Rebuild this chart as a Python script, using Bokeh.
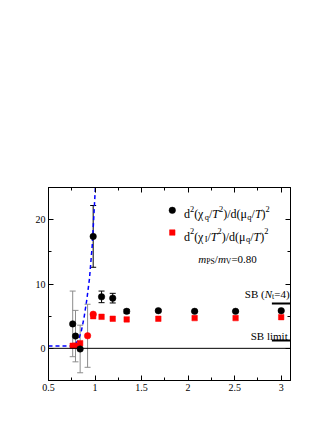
from bokeh.plotting import figure
from bokeh.models import (ColumnDataSource, Whisker, TeeHead, Span, Label, LinearAxis,
                          FixedTicker, NumeralTickFormatter, Range1d)
from bokeh.embed import file_html
from bokeh.resources import INLINE

# ---------------- data ----------------
T_q = [0.76, 0.79, 0.84, 0.98, 1.07, 1.19, 1.34, 1.68, 2.07, 2.51, 3.00]
d2chi_q = [3.8, 1.9, -0.1, 17.4, 8.0, 7.8, 5.75, 5.85, 5.75, 5.75, 5.85]
d2chi_q_err = [5.1, 4.0, 3.7, 4.8, 0.9, 0.75, 0.3, 0.15, 0.1, 0.1, 0.1]
d2chi_q_err_gray = [True, True, True, False, False, False, False, False, False, False, False]

T_I = [0.76, 0.79, 0.84, 0.98, 1.07, 1.19, 1.34, 1.68, 2.07, 2.51, 3.00]
d2chi_I = [0.4, 0.4, 0.8, 5.0, 4.9, 4.6, 4.5, 4.6, 4.7, 4.7, 4.85]

T_I_c = [0.92, 0.98]
d2chi_I_c = [1.95, 5.3]
d2chi_I_c_err = [4.9, 0.0]

T_fit = [0.5, 0.77, 0.79, 0.82, 0.85, 0.88, 0.91, 0.94, 0.97, 1.0, 1.01]
fit = [0.35, 0.35, 0.7, 1.3, 2.5, 4.6, 7.4, 10.8, 16.0, 24.0, 27.0]

sb_nt4 = 6.95
sb_limit = 1.22
sb_x = [2.9, 3.1]

x_ticks = [0.5, 1.0, 1.5, 2.0, 2.5, 3.0]
x_minor = [0.75, 1.25, 1.75, 2.25, 2.75]
y_ticks = [0, 10, 20]
y_minor = [-5, 5, 15, 25]

FONT = "Liberation Serif"

p = figure(width=324, height=422, x_range=Range1d(0.5, 3.1), y_range=Range1d(-5, 25),
           output_backend="svg", toolbar_location=None,
           min_border_left=48, min_border_right=34, min_border_top=187, min_border_bottom=42)
p.xgrid.visible = False
p.ygrid.visible = False
p.outline_line_color = "black"
p.background_fill_color = "white"
p.border_fill_color = "white"


def style_axis(ax, ticks, minor, labels=True):
    ax.ticker = FixedTicker(ticks=ticks, minor_ticks=minor)
    ax.major_tick_in = 5
    ax.major_tick_out = 0
    ax.minor_tick_in = 3
    ax.minor_tick_out = 0
    ax.axis_line_color = "black"
    ax.major_tick_line_color = "black"
    ax.minor_tick_line_color = "black"
    ax.major_label_text_font = FONT
    ax.major_label_text_font_size = "10px"
    ax.major_label_text_color = "black" if labels else None
    ax.major_label_standoff = 3


style_axis(p.xaxis[0], x_ticks, x_minor)
p.xaxis[0].formatter = NumeralTickFormatter(format="0.[0]")
style_axis(p.yaxis[0], y_ticks, y_minor)
top = LinearAxis()
style_axis(top, x_ticks, x_minor, labels=False)
p.add_layout(top, "above")
right = LinearAxis()
style_axis(right, y_ticks, y_minor, labels=False)
p.add_layout(right, "right")

# zero line
p.add_layout(Span(location=0, dimension="width", line_color="black", line_width=1))

# blue dashed fit
p.line(T_fit, fit, line_color="#0000ff", line_width=1.5, line_dash="4 3")

# error bars
def whisker(xs, ys, es, color):
    src = ColumnDataSource(dict(x=xs, lo=[y - e for y, e in zip(ys, es)],
                                hi=[y + e for y, e in zip(ys, es)]))
    w = Whisker(source=src, base="x", upper="hi", lower="lo", dimension="height",
                line_color=color, line_width=1,
                upper_head=TeeHead(size=6, line_color=color, line_width=1),
                lower_head=TeeHead(size=6, line_color=color, line_width=1))
    p.add_layout(w)

gx = [x for x, g in zip(T_q, d2chi_q_err_gray) if g]
gy = [y for y, g in zip(d2chi_q, d2chi_q_err_gray) if g]
ge = [e for e, g in zip(d2chi_q_err, d2chi_q_err_gray) if g]
bx = [x for x, g in zip(T_q, d2chi_q_err_gray) if not g]
by = [y for y, g in zip(d2chi_q, d2chi_q_err_gray) if not g]
be = [e for e, g in zip(d2chi_q_err, d2chi_q_err_gray) if not g]
whisker(gx, gy, ge, "#8c8c8c")
whisker(bx, by, be, "black")
whisker([T_I_c[0]], [d2chi_I_c[0]], [d2chi_I_c_err[0]], "#8c8c8c")

# markers
p.scatter(T_I, d2chi_I, marker="square", size=5.5, fill_color="#ff0000", line_color="#ff0000",
          line_width=0.5)
p.scatter(T_I_c, d2chi_I_c, marker="circle", size=6.5, fill_color="#ff0000", line_color="#ff0000",
          line_width=0.5)
p.scatter(T_q, d2chi_q, marker="circle", size=6.5, fill_color="black", line_color="black",
          line_width=0.5)

# SB lines
p.line(sb_x, [sb_nt4, sb_nt4], line_color="black", line_width=2)
p.line(sb_x, [sb_limit, sb_limit], line_color="black", line_width=2)

# ---------------- rich text helper ----------------
WR = {'d': .5, '(': .333, ')': .333, '/': .278, 'q': .5, '2': .5, 'S': .556, 'B': .667,
      ' ': .25, '=': .564, '4': .5, 'l': .278, 'i': .278, 'm': .778, 't': .278, '0': .5,
      '.': .25, '8': .5, 'P': .556, 'V': .722, 'I': .333, 'χ': .55, 'μ': .576, 'c': .444,
      'p': .5}
WI = {'T': .556, 'N': .667, 't': .278, 'm': .722, 'p': .5, 'c': .444, '/': .278}


def rich(x, y, pieces, size, dy=0.0, align="left"):
    items = []
    cx = 0.0
    for s, st in pieces:
        small = ("sup" in st) or ("sub" in st)
        sz = size * 0.7 if small else size
        ital = st.startswith("i")
        w = sum((WI if ital else WR).get(ch, 0.5) for ch in s) * sz
        off = dy + (0.42 * size if "sup" in st else (-0.25 * size if "sub" in st else 0.0))
        items.append((s, cx, off, sz, ital))
        cx += w
    shift = 0.0 if align == "left" else (-cx if align == "right" else -cx / 2)
    for s, ox, oy, sz, ital in items:
        p.add_layout(Label(x=x, y=y, x_offset=ox + shift, y_offset=oy, text=s,
                           text_font=FONT, text_font_size=f"{sz:.1f}px",
                           text_font_style="italic" if ital else "normal",
                           text_color="black", text_baseline="alphabetic",
                           text_align="left"))


# legend
leg_x, leg_tx = 1.83, 1.955
leg_y1, leg_y2 = 21.45, 18.0
p.scatter([leg_x], [leg_y1], marker="circle", size=6.5, fill_color="black", line_color="black",
          line_width=0.5)
p.scatter([leg_x], [leg_y2], marker="square", size=5.5, fill_color="#ff0000", line_color="#ff0000",
          line_width=0.5)
rich(leg_tx, leg_y1, [("d", "r"), ("2", "sup"), ("(χ", "r"), ("q", "sub"), ("/", "r"),
                      ("T", "i"), ("2", "sup"), (")/d(μ", "r"), ("q", "sub"), ("/", "r"),
                      ("T", "i"), (")", "r"), ("2", "sup")], 12, dy=-4)
rich(leg_tx, leg_y2, [("d", "r"), ("2", "sup"), ("(χ", "r"), ("I", "sub"), ("/", "r"),
                      ("T", "i"), ("2", "sup"), (")/d(μ", "r"), ("q", "sub"), ("/", "r"),
                      ("T", "i"), (")", "r"), ("2", "sup")], 12, dy=-4)
rich(2.11, 14.54, [("m", "i"), ("PS", "sub"), ("/", "r"), ("m", "i"), ("V", "sub"),
                   ("=0.80", "r")], 11, dy=-4)

rich(3.09, 9.1, [("SB (", "r"), ("N", "i"), ("t", "sub"), ("=4)", "r")], 11, dy=-4, align="right")
rich(3.07, 2.6, [("SB limit", "r")], 11, dy=-4, align="right")

# x axis title
rich(1.8, -5, [("T/T", "i"), ("pc", "isub")], 14, dy=-19, align="center")

open("out.html", "w").write(file_html(p, INLINE))
